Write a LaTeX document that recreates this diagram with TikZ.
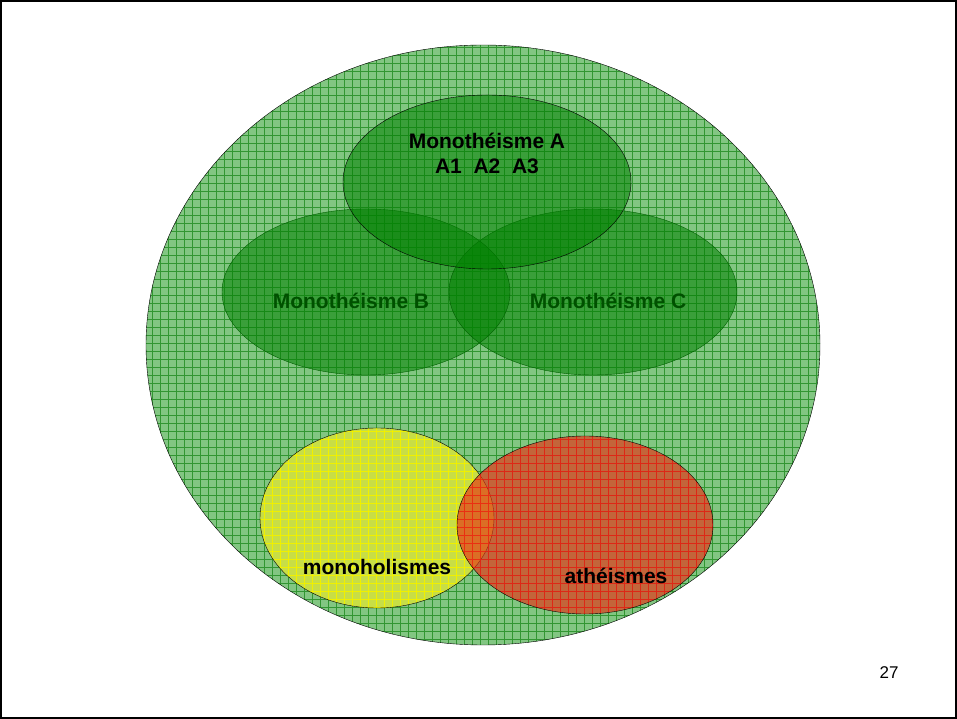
\documentclass[tikz,border=0pt]{standalone}
\usepackage{fontspec}
\setmainfont{Liberation Sans}
\definecolor{paleg}{RGB}{130,198,130}
\definecolor{gridg}{RGB}{50,150,50}
\definecolor{monog}{RGB}{0,128,0}
\definecolor{darkg}{RGB}{0,80,0}
\definecolor{holy}{RGB}{200,222,70}
\definecolor{gridy}{RGB}{240,240,0}
\definecolor{athr}{RGB}{230,50,20}
\definecolor{gridr}{RGB}{235,30,20}
\begin{document}
\begin{tikzpicture}[x=1pt,y=1pt,
   gridline/.style={line width=0.75pt,step=8pt},
   monodisc/.style={fill=monog,fill opacity=0.55},
   lbl/.style={font=\bfseries\fontsize{21}{25}\selectfont,align=center,inner sep=0pt}]
   \useasboundingbox (0,0) rectangle (957,719);
   \draw[line width=2pt] (1,1) rectangle (956,718);
   % grand cercle
   \begin{scope}
     \clip (483,374) ellipse [x radius=337,y radius=300];
     \fill[paleg] (146,74) rectangle (820,674);
     \draw[gridline,gridg] (144,72) grid (822,676);
   \end{scope}
   \draw (483,374) ellipse [x radius=337,y radius=300];
   % les trois monotheismes
   \fill[monodisc] (366,427) ellipse [x radius=144,y radius=83];
   \fill[monodisc] (593,427) ellipse [x radius=144,y radius=83];
   \draw[darkg!70!monog] (366,427) ellipse [x radius=144,y radius=83];
   \draw[darkg!70!monog] (593,427) ellipse [x radius=144,y radius=83];
   \filldraw[monodisc,draw=black,draw opacity=1] (487,537) ellipse [x radius=144,y radius=87];
   \node[lbl] (monoA) at (487,566) {Monothéisme A\\A1\ \ A2\ \ A3};
   \node[lbl,text=darkg] (monoB) at (351,418) {Monothéisme B};
   \node[lbl,text=darkg] (monoC) at (608,418) {Monothéisme C};
   % monoholismes
   \begin{scope}
     \clip (377,201) ellipse [x radius=117,y radius=90];
     \fill[holy] (260,111) rectangle (494,291);
     \draw[gridline,gridy] (256,104) grid (496,296);
   \end{scope}
   \draw (377,201) ellipse [x radius=117,y radius=90];
   % atheismes
   \begin{scope}
     \clip (585,194) ellipse [x radius=128,y radius=89];
     \fill[athr,opacity=0.65] (457,105) rectangle (713,283);
     \draw[gridline,gridr,opacity=0.8] (456,104) grid (720,288);
   \end{scope}
   \draw (585,194) ellipse [x radius=128,y radius=89];
   \node[lbl] (holism) at (377,152) {monoholismes};
   \node[lbl] (atheism) at (616,143) {athéismes};
   \node[font=\fontsize{17}{20}\selectfont] (page) at (889,46) {27};
\end{tikzpicture}
\end{document}
